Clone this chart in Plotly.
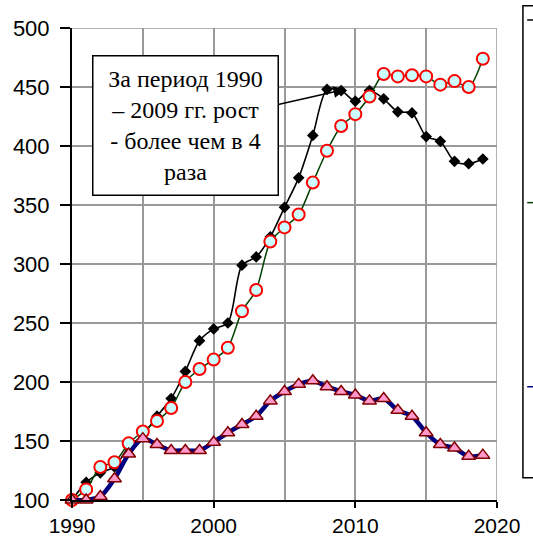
import plotly.graph_objects as go

years = list(range(1990, 2020))

# черная линия (ромбы)
black_vals = [100, 115, 123, 128, 145, 155, 171, 186, 209, 235, 245, 250, 299, 306, 323, 348,
              373, 409, 448, 447, 438, 447, 440, 429, 428, 408, 404, 387, 385, 389]
# красные кружки
circle_vals = [100, 109, 128, 132, 148, 158, 167, 178, 200, 211, 219, 229, 260, 278, 319, 331,
               342, 369, 396, 417, 427, 442, 461, 459, 460, 459, 452, 455, 450, 474]
# треугольники
tri_vals = [100, 100, 103, 118, 139, 152, 147, 142, 142, 142, 149, 157, 164, 171, 184, 192,
            198, 201, 196, 192, 189, 184, 186, 176, 171, 157, 147, 144, 137, 138]

note_text = "За период 1990<br>– 2009 гг. рост<br>- более чем в 4<br>раза"

fig = go.Figure()

fig.add_trace(go.Scatter(
    x=years, y=black_vals, mode='lines+markers',
    line=dict(color='black', width=1.6, shape='spline', smoothing=0.8),
    marker=dict(symbol='diamond', size=9, color='black'),
    cliponaxis=False, showlegend=False
))

fig.add_trace(go.Scatter(
    x=years, y=circle_vals, mode='lines+markers',
    line=dict(color='#004000', width=1.5, shape='spline', smoothing=0.8),
    marker=dict(symbol='circle', size=12, color='#ccffff', line=dict(color='#ff0000', width=2)),
    cliponaxis=False, showlegend=False
))

fig.add_trace(go.Scatter(
    x=years, y=tri_vals, mode='lines+markers',
    line=dict(color='#000080', width=4.5, shape='spline', smoothing=0.8),
    marker=dict(symbol='triangle-up', size=12, color='#ff99cc', line=dict(color='#800000', width=1.5)),
    cliponaxis=False, showlegend=False
))

fig.add_annotation(
    x=2009.3, y=448, xref='x', yref='y',
    text=note_text, showarrow=True, arrowhead=2, arrowsize=1.6, arrowwidth=1.5,
    arrowcolor='black', ax=-160, ay=36, axref='pixel', ayref='pixel',
    width=184, height=138, align='center',
    bgcolor='white', bordercolor='black', borderwidth=1.5, borderpad=0,
    font=dict(family='Liberation Serif, Times New Roman, serif', size=24, color='black')
)

# обрезанная легенда справа
fig.add_shape(type='rect', xref='paper', yref='paper', x0=1.061, x1=1.2, y0=0.047, y1=1.047,
              line=dict(color='black', width=1.5), fillcolor='white', layer='above')
for yy, col in [(1.017, 'black'), (0.63, '#004000'), (0.24, '#000080')]:
    fig.add_shape(type='line', xref='paper', yref='paper', x0=1.071, x1=1.09, y0=yy, y1=yy,
                  line=dict(color=col, width=1.5), layer='above')

fig.update_xaxes(
    range=[1990, 2020], tickvals=[1990, 2000, 2010, 2020],
    showgrid=True, gridcolor='#999999', gridwidth=1.5,
    minor=dict(dtick=5, tick0=1990, showgrid=True, gridcolor='#999999', gridwidth=1.5),
    showline=True, linecolor='black', linewidth=2,
    ticks='outside', ticklen=6, tickwidth=2, tickcolor='black',
    tickfont=dict(family='Liberation Sans, Arial', size=21, color='black'),
    zeroline=False
)
fig.update_yaxes(
    range=[100, 500], dtick=50, tick0=100,
    showgrid=True, gridcolor='#999999', gridwidth=1.5,
    showline=True, linecolor='black', linewidth=2,
    ticks='outside', ticklen=10, tickwidth=2, tickcolor='black',
    ticklabelstandoff=6,
    tickfont=dict(family='Liberation Sans, Arial', size=22, color='black'),
    zeroline=False
)

fig.add_shape(type='line', xref='x', yref='paper', x0=2020, x1=2020, y0=0, y1=1,
              line=dict(color='#999999', width=1.5), layer='below')
fig.add_shape(type='line', xref='paper', yref='y', x0=0, x1=1, y0=500, y1=500,
              line=dict(color='#999999', width=1.5), layer='below')

fig.update_layout(
    width=533, height=540,
    margin=dict(l=72, r=36, t=28, b=40, autoexpand=False),
    plot_bgcolor='white', paper_bgcolor='white',
)

fig.write_html("out.html", config={'displayModeBar': False},
               post_script="document.body.style.margin='0';")
